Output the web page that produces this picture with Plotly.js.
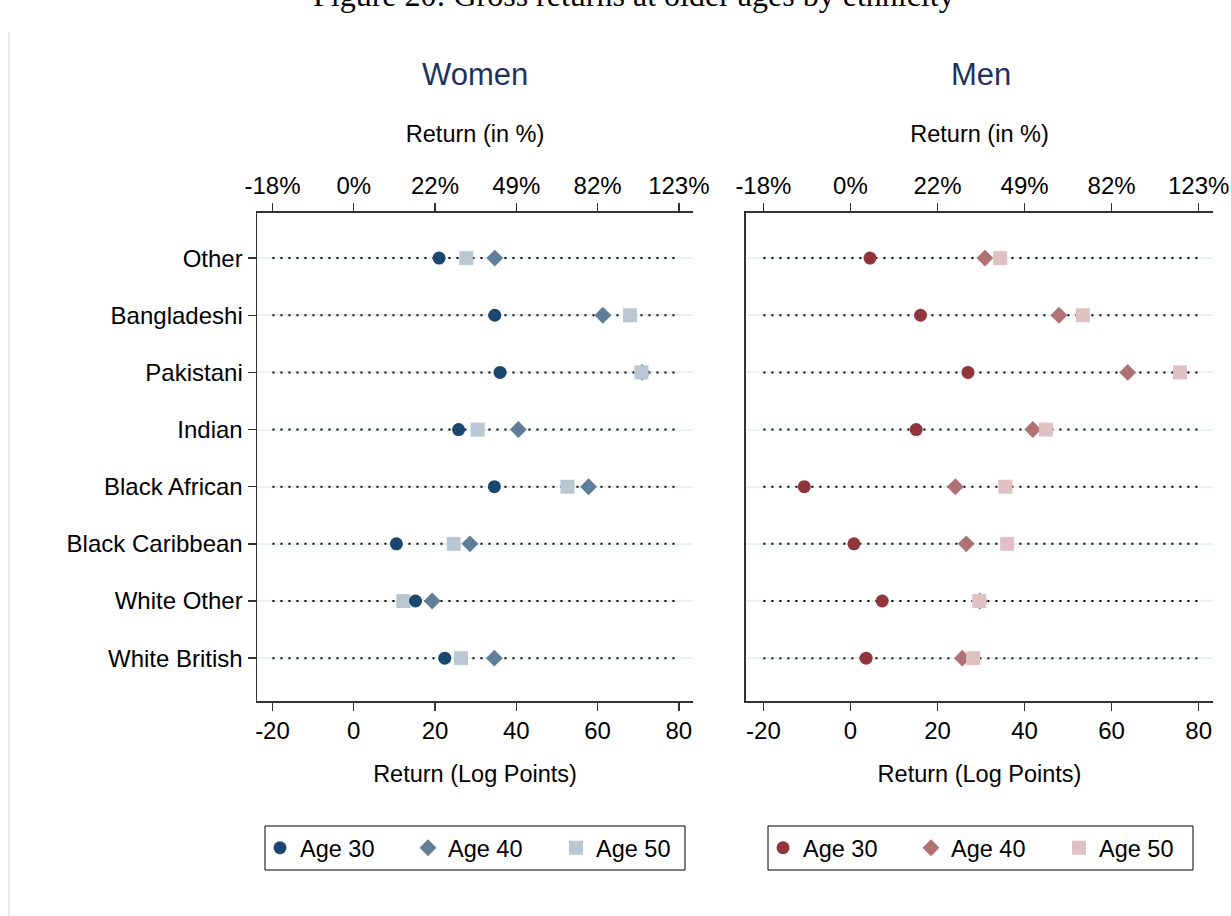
<!DOCTYPE html>
<html>
<head>
<meta charset="utf-8">
<script src="https://cdn.plot.ly/plotly-3.0.1.min.js"></script>
<style>
  html, body { margin: 0; padding: 0; background: #fff; }
  #chart { width: 1231px; height: 916px; }
</style>
</head>
<body>
<div id="chart"></div>
<script>
// categories, top to bottom
var groups = ['Other', 'Bangladeshi', 'Pakistani', 'Indian', 'Black African',
              'Black Caribbean', 'White Other', 'White British'];

// returns in log points
var women30 = [21.0, 34.7, 36.0, 25.8, 34.6, 10.5, 15.2, 22.4];
var women40 = [34.7, 61.3, 71.0, 40.5, 57.8, 28.6, 19.3, 34.6];
var women50 = [27.7, 68.0, 70.8, 30.5, 52.6, 24.6, 12.2, 26.4];

var men30 = [4.5, 16.1, 27.0, 15.1, -10.6, 0.8, 7.3, 3.6];
var men40 = [30.9, 47.9, 63.7, 41.9, 24.1, 26.6, 29.7, 25.7];
var men50 = [34.4, 53.4, 75.7, 44.9, 35.6, 36.0, 29.6, 28.2];

var logTicks = [-20, 0, 20, 40, 60, 80];
var pctTicks = logTicks.map(function (v) {
  return Math.round((Math.exp(v / 100) - 1) * 100) + '%';
});

var font = 'Liberation Sans, Arial, sans-serif';

// dotted guide lines across the tick span
function guide(xa, ya) {
  var x = [], y = [];
  groups.forEach(function (g) {
    x.push(logTicks[0], logTicks[logTicks.length - 1], null);
    y.push(g, g, null);
  });
  return {
    x: x, y: y, xaxis: xa, yaxis: ya, type: 'scatter', mode: 'lines',
    line: {color: '#000', width: 2, dash: '2px,6px'},
    showlegend: false, hoverinfo: 'skip'
  };
}

// empty trace so the top (percent) axis gets drawn
function holder(xa, ya) {
  return {x: [], y: [], xaxis: xa, yaxis: ya, type: 'scatter', mode: 'markers',
          showlegend: false, hoverinfo: 'skip'};
}

function pts(vals, name, sym, col, size, xa, ya, leg, rank) {
  return {
    x: vals, y: groups, xaxis: xa, yaxis: ya, type: 'scatter', mode: 'markers',
    name: name, legend: leg, legendrank: rank,
    marker: {symbol: sym, color: col, size: size, line: {width: 0}}
  };
}

var data = [
  guide('x', 'y'),
  pts(women40, 'Age 40', 'diamond', '#5e7e9a', 13, 'x', 'y', 'legend', 2),
  pts(women50, 'Age 50', 'square', '#b9c7d3', 14, 'x', 'y', 'legend', 3),
  pts(women30, 'Age 30', 'circle', '#1a476f', 13, 'x', 'y', 'legend', 1),
  holder('x3', 'y'),
  guide('x2', 'y2'),
  pts(men40, 'Age 40', 'diamond', '#b07174', 13, 'x2', 'y2', 'legend2', 2),
  pts(men50, 'Age 50', 'square', '#dfc1c3', 14, 'x2', 'y2', 'legend2', 3),
  pts(men30, 'Age 30', 'circle', '#90353b', 13, 'x2', 'y2', 'legend2', 1),
  holder('x4', 'y2')
];

var tickFont = {family: font, size: 24, color: '#000'};
var titleFont = {family: font, size: 23.5, color: '#000'};

function bottomAxis(dom, rng, anchor) {
  return {
    domain: dom, range: rng, anchor: anchor,
    tickvals: logTicks, ticktext: logTicks.map(String),
    ticks: 'outside', ticklen: 8, tickcolor: '#333', tickwidth: 1.5,
    showline: true, linecolor: '#333', linewidth: 1.5,
    showgrid: false, zeroline: false, tickfont: tickFont,
    title: {text: 'Return (Log Points)', font: titleFont, standoff: 22}
  };
}

function topAxis(over, rng, anchor) {
  return {
    overlaying: over, side: 'top', range: rng, anchor: anchor,
    tickvals: logTicks, ticktext: pctTicks,
    ticks: 'outside', ticklen: 8, tickcolor: '#333', tickwidth: 1.5,
    showline: true, linecolor: '#333', linewidth: 1.5,
    showgrid: false, zeroline: false, tickfont: tickFont,
    title: {text: 'Return (in %)', font: titleFont, standoff: 22}
  };
}

function catAxis(anchor, labels) {
  return {
    domain: [0.2347, 0.7675], anchor: anchor,
    type: 'category', categoryorder: 'array', categoryarray: groups,
    range: [groups.length - 1 + 0.75, -0.79],
    showline: true, linecolor: '#333', linewidth: 1.5,
    ticks: labels ? 'outside' : '', ticklen: 8, tickcolor: '#333', tickwidth: 1.5,
    showticklabels: labels, tickfont: tickFont,
    showgrid: true, gridcolor: '#eaf2f3', gridwidth: 2, zeroline: false
  };
}

var wRange = [-23.8, 83.5];
var mRange = [-24.0, 83.3];

var legendBase = {
  orientation: 'h', xanchor: 'left', yanchor: 'top', y: 0.0983,
  borderwidth: 0, bgcolor: 'rgba(0,0,0,0)',
  font: {family: font, size: 23.5, color: '#000'},
  entrywidth: 103, entrywidthmode: 'pixels', traceorder: 'normal'
};

// legend frames
function frame(x0, x1) {
  return {type: 'rect', xref: 'paper', yref: 'paper',
          x0: x0 / 1231, x1: x1 / 1231, y0: 1 - 870 / 916, y1: 1 - 826 / 916,
          line: {color: '#000', width: 1}, fillcolor: 'rgba(0,0,0,0)'};
}

var layout = {
  width: 1231, height: 916,
  margin: {l: 0, r: 0, t: 0, b: 0},
  paper_bgcolor: '#fff', plot_bgcolor: '#fff',
  showlegend: true,
  xaxis: bottomAxis([0.2088, 0.5630], wRange, 'y'),
  xaxis2: bottomAxis([0.6060, 0.9854], mRange, 'y2'),
  xaxis3: topAxis('x', wRange, 'y'),
  xaxis4: topAxis('x2', mRange, 'y2'),
  yaxis: catAxis('x', true),
  yaxis2: catAxis('x2', false),
  legend: Object.assign({}, legendBase, {x: 260 / 1231}),
  legend2: Object.assign({}, legendBase, {x: 763 / 1231}),
  annotations: [
    {text: 'Figure 20: Gross returns at older ages by ethnicity',
     xref: 'paper', yref: 'paper', x: 0.515, y: 0.984, xanchor: 'center', yanchor: 'bottom',
     showarrow: false, font: {family: 'Liberation Serif, Times New Roman, serif', size: 32, color: '#000'}},
    {text: 'Women', xref: 'paper', yref: 'paper', x: 0.3859, y: 0.9192,
     xanchor: 'center', yanchor: 'middle', showarrow: false,
     font: {family: font, size: 31, color: '#1e3260'}},
    {text: 'Men', xref: 'paper', yref: 'paper', x: 0.797, y: 0.9192,
     xanchor: 'center', yanchor: 'middle', showarrow: false,
     font: {family: font, size: 31, color: '#1e3260'}}
  ],
  shapes: [
    {type: 'line', xref: 'paper', yref: 'paper', x0: 0.0073, x1: 0.0073, y0: 0, y1: 0.965,
     line: {color: '#e6e6e6', width: 1.5}},
    frame(265, 685),
    frame(768, 1193)
  ]
};

Plotly.newPlot('chart', data, layout, {displayModeBar: false, staticPlot: true});
</script>
</body>
</html>
